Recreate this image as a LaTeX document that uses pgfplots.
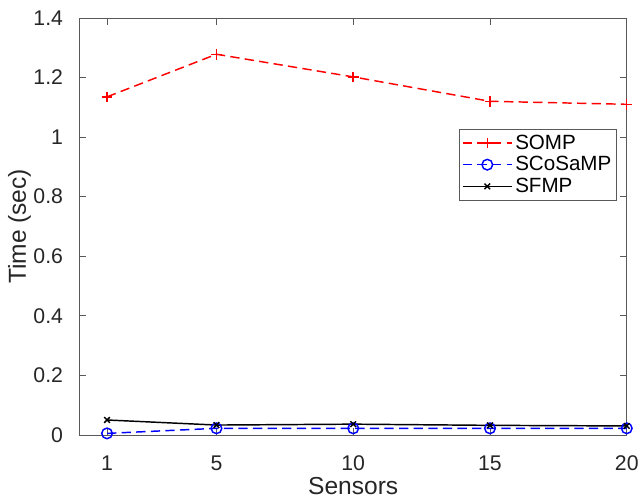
\documentclass[border=0pt]{standalone}
\usepackage{fontspec}
\setmainfont{Liberation Sans}
\usepackage{pgfplots}
\pgfplotsset{compat=1.18}
\definecolor{axgray}{RGB}{38,38,38}
\begin{document}
\begin{tikzpicture}
\begin{axis}[
    name=ax,
    scale only axis,
    width=412pt, height=314pt,
    xmin=0, xmax=20,
    ymin=0, ymax=1.4,
    xtick={1,5,10,15,20},
    ytick={0,0.2,0.4,0.6,0.8,1,1.2,1.4},
    tick align=inside,
    axis line style={gray!70!black, line width=0.5pt},
    tick style={gray!70!black, line width=0.5pt},
    major tick length=5pt,
    tick label style={font=\fontsize{16}{18}\selectfont, text=axgray},
    xticklabel style={yshift=-12pt},
    yticklabel style={xshift=-9pt},
    /pgf/number format/assume math mode=true,
    xlabel={Sensors},
    ylabel={Time (sec)},
    label style={font=\fontsize{18.5}{22}\selectfont, text=axgray},
    xlabel style={yshift=2pt},
    ylabel style={yshift=-5pt},
    legend style={at={(0.982,0.733)}, anchor=north east,
        font=\fontsize{15.5}{18}\selectfont, draw=gray!70!black,
        inner sep=2pt, row sep=0pt},
    legend cell align=left,
]
% SOMP
\addplot[red, dash pattern=on 7pt off 4pt, line width=1.1pt,
    mark=+, mark size=4pt, mark options={solid},
    legend image code/.code={%
        \draw[red, dash pattern=on 7pt off 4pt, line width=1.1pt] (0cm,0cm) -- (1.3cm,0cm);
        \draw[red, line width=1.1pt, mark=+, mark size=4pt] plot coordinates {(0.65cm,0cm)};}
] coordinates {
    (1,1.135) (5,1.278) (10,1.202) (15,1.120) (20,1.110)
};
\addlegendentry{SOMP}
% SCoSaMP
\addplot[blue, dash pattern=on 7pt off 4pt, line width=1.1pt,
    mark=o, mark size=4pt, mark options={solid},
    legend image code/.code={%
        \draw[blue, dash pattern=on 7pt off 4pt, line width=1.1pt] (0cm,0cm) -- (1.3cm,0cm);
        \draw[blue, line width=1.1pt, mark=o, mark size=4pt] plot coordinates {(0.65cm,0cm)};}
] coordinates {
    (1,0.005) (5,0.022) (10,0.022) (15,0.022) (20,0.022)
};
\addlegendentry{SCoSaMP}
% SFMP
\addplot[black, solid, line width=1.1pt, mark=x, mark size=3pt,
    legend image code/.code={%
        \draw[black, line width=1.1pt] (0cm,0cm) -- (1.3cm,0cm);
        \draw[black, line width=1.1pt, mark=x, mark size=3pt] plot coordinates {(0.65cm,0cm)};}
] coordinates {
    (1,0.050) (5,0.033) (10,0.036) (15,0.032) (20,0.030)
};
\addlegendentry{SFMP}
\end{axis}
\path (ax.south west) ++(-60pt,-52pt);
\path (ax.north east) ++(10pt,13.5pt);
\end{tikzpicture}
\end{document}
